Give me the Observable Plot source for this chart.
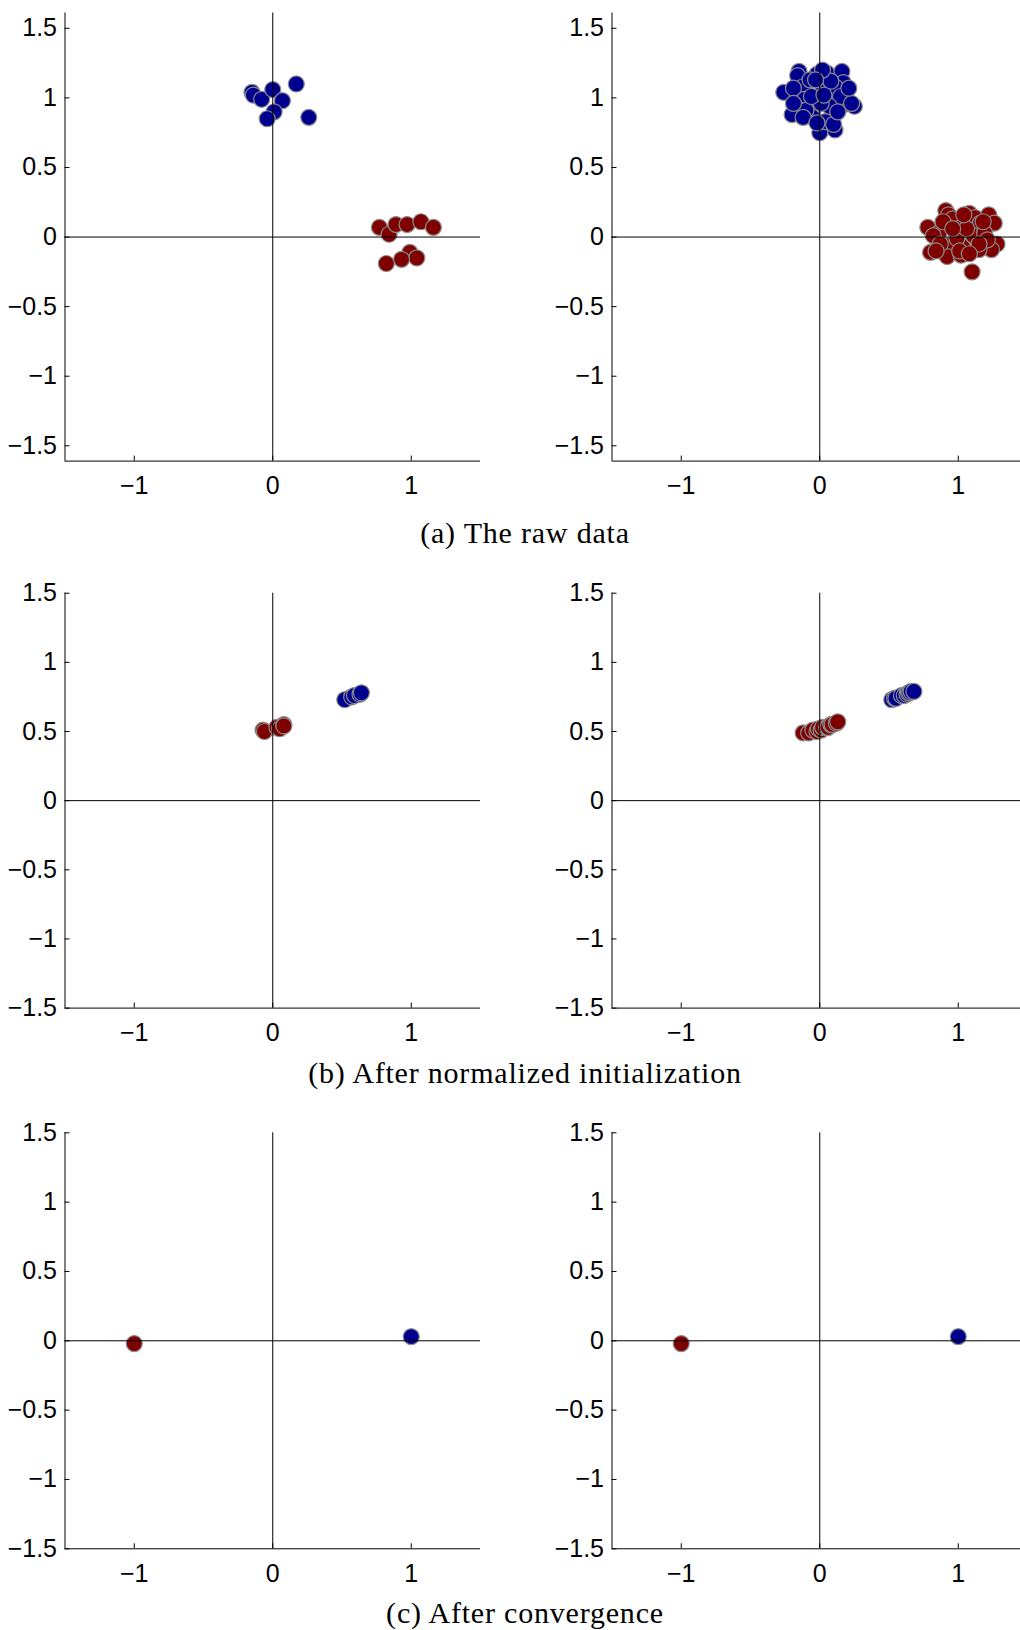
<!DOCTYPE html>
<html>
<head>
<meta charset="utf-8">
<script src="https://cdn.jsdelivr.net/npm/d3@7"></script>
<script src="https://cdn.jsdelivr.net/npm/@observablehq/plot@0.6"></script>
<style>
  html, body { margin: 0; padding: 0; background: #fff; overflow: hidden; }
  #fig { position: relative; width: 1020px; height: 1630px; overflow: hidden; background: #fff; }
  .panel { position: absolute; }
  .caption {
    position: absolute; left: 0; width: 1050px; text-align: center;
    font-family: "Liberation Serif", "Times New Roman", serif; font-size: 30px;
    letter-spacing: 0.8px; line-height: 34px; color: #000;
  }
</style>
</head>
<body>
<div id="fig"></div>
<script>
// Two-class point sets, [x, y] pairs.
// (a) raw data: small sample (left) and large sample (right)
const rawSmallBlue = [
  [-0.15, 1.04], [-0.14, 1.02], [-0.08, 0.99], [0.00, 1.06], [0.07, 0.98],
  [0.17, 1.10], [0.01, 0.90], [-0.04, 0.85], [0.26, 0.86]
];
const rawSmallRed = [
  [0.77, 0.07], [0.84, 0.02], [0.89, 0.09], [0.97, 0.09], [1.07, 0.11],
  [1.16, 0.07], [0.99, -0.11], [1.04, -0.15], [0.93, -0.16], [0.82, -0.19]
];
const rawLargeBlue = [
  [-0.26, 1.04], [-0.15, 1.19], [-0.16, 1.16], [-0.12, 1.08], [-0.11, 0.99],
  [-0.17, 0.93], [-0.20, 0.88], [-0.02, 1.17], [0.05, 1.18], [0.16, 1.19],
  [0.17, 1.11], [0.06, 1.03], [0.17, 0.95], [0.25, 0.94], [0.10, 0.87],
  [0.11, 0.77], [0.00, 0.75], [-0.03, 0.94], [-0.05, 0.86], [0.04, 0.83],
  [-0.19, 1.07], [-0.07, 1.13], [0.02, 1.09], [0.11, 1.08], [0.15, 1.01],
  [0.23, 0.96], [-0.10, 0.91], [0.07, 0.94], [0.01, 0.96], [-0.06, 1.01],
  [0.08, 1.12], [0.02, 1.20], [-0.12, 0.86], [-0.19, 0.96], [0.21, 1.07],
  [0.10, 0.81], [-0.02, 0.82], [0.03, 1.02], [-0.03, 1.13], [0.13, 0.90]
];
const rawLargeRed = [
  [0.78, 0.07], [0.80, -0.11], [0.86, 0.03], [0.91, 0.19], [0.93, 0.16],
  [0.96, 0.13], [1.02, 0.07], [1.08, 0.17], [1.12, 0.14], [1.16, 0.10],
  [1.22, 0.16], [1.26, 0.10], [1.28, -0.05], [1.24, -0.09], [1.15, -0.09],
  [1.03, -0.07], [0.94, -0.06], [0.92, -0.14], [1.02, -0.13], [1.10, -0.25],
  [1.11, 0.01], [0.82, 0.01], [0.87, -0.05], [0.99, -0.01], [1.06, 0.06],
  [1.19, 0.03], [1.21, -0.02], [0.89, 0.11], [1.04, 0.16], [0.96, 0.06],
  [1.18, 0.11], [0.84, -0.10], [1.15, -0.05], [1.01, -0.10], [1.08, -0.12]
];

// (b) after normalized initialization
const initSmallBlue = [
  [0.52, 0.73], [0.57, 0.75], [0.59, 0.76], [0.63, 0.77], [0.64, 0.78]
];
const initSmallRed = [
  [-0.07, 0.51], [-0.06, 0.50], [0.03, 0.53], [0.05, 0.52], [0.08, 0.55], [0.08, 0.54]
];
const initLargeBlue = [
  [0.52, 0.73], [0.54, 0.74], [0.55, 0.74], [0.59, 0.76], [0.61, 0.76],
  [0.63, 0.77], [0.64, 0.78], [0.65, 0.78], [0.66, 0.79], [0.68, 0.79]
];
const initLargeRed = [
  [-0.12, 0.49], [-0.08, 0.49], [-0.05, 0.51], [-0.02, 0.50], [-0.01, 0.52],
  [0.01, 0.51], [0.02, 0.53], [0.05, 0.53], [0.06, 0.53], [0.08, 0.55],
  [0.09, 0.55], [0.12, 0.56], [0.13, 0.57]
];

// (c) after convergence
const convBlue = [[1.00, 0.03]];
const convRed = [[-1.00, -0.02]];

const yTicks = [-1.5, -1, -0.5, 0, 0.5, 1, 1.5];
const xTicks = [-1, 0, 1];
const captions = ["(a) The raw data", "(b) After normalized initialization", "(c) After convergence"];

const BLUE = "#00008f";
const RED = "#7f0000";
const fmt = d => String(d).replace("-", "\u2212");

function panel({blue, red, yDomain, top, left, height, marginTop, marginBottom}) {
  const pts = [
    ...red.map(([x, y]) => ({x, y, c: "red"})),
    ...blue.map(([x, y]) => ({x, y, c: "blue"}))
  ];
  const chart = Plot.plot({
    width: 500,
    height,
    marginLeft: 64.5,
    marginRight: 20,
    marginTop,
    marginBottom,
    style: {fontFamily: "'Liberation Sans', Arial, sans-serif", fontSize: "25px", color: "#000", background: "#fff", overflow: "visible"},
    x: {domain: [-1.5, 1.5]},
    y: {domain: yDomain},
    marks: [
      Plot.dot(pts, {x: "x", y: "y", r: 8, fill: d => d.c === "blue" ? BLUE : RED, stroke: "#8c8c8c", strokeWidth: 1.2}),
      Plot.ruleX([0], {stroke: "#000", strokeWidth: 1}),
      Plot.ruleY([0], {stroke: "#000", strokeWidth: 1}),
      Plot.ruleX([-1.5], {stroke: "#000", strokeWidth: 1}),
      Plot.ruleY([yDomain[0]], {stroke: "#000", strokeWidth: 1}),
      Plot.axisX({ticks: xTicks, tickFormat: fmt, tickSize: 0, tickPadding: 15, label: null}),
      Plot.axisX({ticks: xTicks, text: null, tickSize: -5, label: null}),
      Plot.axisY({ticks: yTicks, tickFormat: fmt, tickSize: 0, tickPadding: 8, label: null}),
      Plot.axisY({ticks: yTicks, text: null, tickSize: -5, label: null})
    ]
  });
  chart.classList.add("panel");
  chart.style.top = top + "px";
  chart.style.left = left + "px";
  return chart;
}

const fig = document.getElementById("fig");
const rows = [
  {sets: [[rawSmallBlue, rawSmallRed], [rawLargeBlue, rawLargeRed]], yDomain: [-1.61, 1.61], top: 0, height: 500, marginTop: 12.5, marginBottom: 39.4, cap: 533},
  {sets: [[initSmallBlue, initSmallRed], [initLargeBlue, initLargeRed]], yDomain: [-1.5, 1.5], top: 580, height: 470, marginTop: 12.7, marginBottom: 42.4, cap: 1073},
  {sets: [[convBlue, convRed], [convBlue, convRed]], yDomain: [-1.5, 1.5], top: 1120, height: 470, marginTop: 12.3, marginBottom: 41.7, cap: 1613}
];
rows.forEach((row, i) => {
  row.sets.forEach(([blue, red], j) => {
    fig.appendChild(panel({blue, red, yDomain: row.yDomain, top: row.top, left: j === 0 ? 0 : 547,
      height: row.height, marginTop: row.marginTop, marginBottom: row.marginBottom}));
  });
  const cap = document.createElement("div");
  cap.className = "caption";
  cap.style.top = (row.cap - 17) + "px";
  cap.textContent = captions[i];
  fig.appendChild(cap);
});
</script>
</body>
</html>
